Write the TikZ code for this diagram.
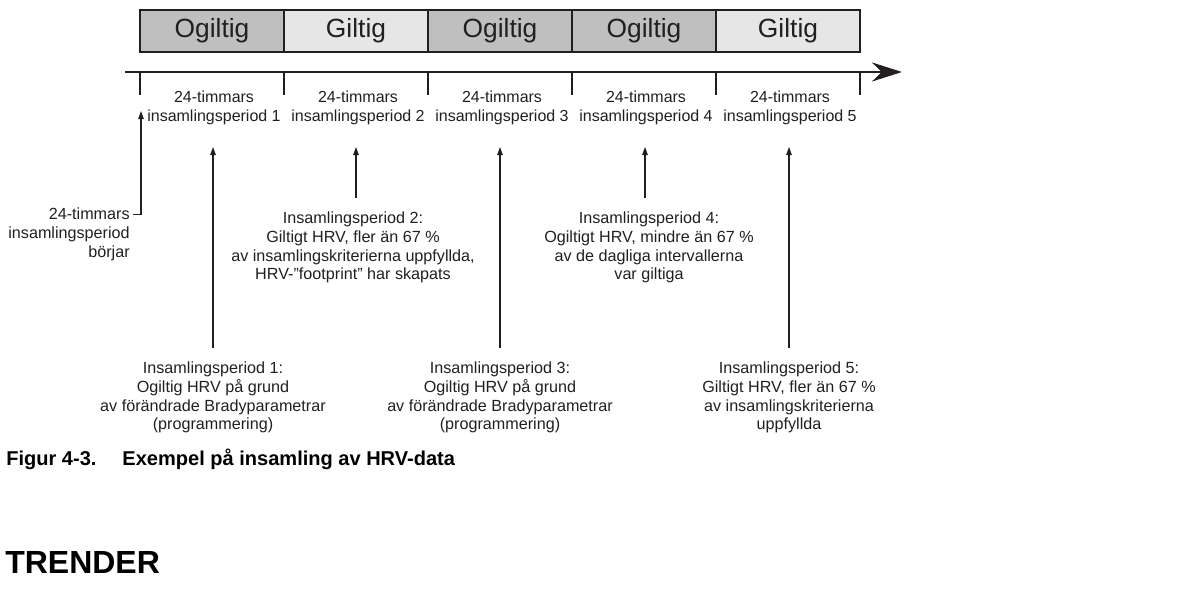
\documentclass[tikz,border=0pt]{standalone}
\usepackage{fontspec}
\setmainfont{Liberation Sans}
\usetikzlibrary{arrows.meta,positioning}
\definecolor{hrvdark}{RGB}{35,31,32}
\definecolor{hrvinvalid}{RGB}{191,191,191}
\definecolor{hrvvalid}{RGB}{230,230,230}

\begin{document}
\begin{tikzpicture}[x=0.02cm, y=-0.02cm,
  periodbox/.style={draw=hrvdark, line width=1.1pt, minimum width=2.88cm, minimum height=0.84cm, inner sep=0pt, font=\fontsize{15}{18}\selectfont, text=hrvdark},
  ticklabel/.style={font=\fontsize{9.1}{10.8}\selectfont, align=center, text=hrvdark, inner sep=0pt},
  notelabel/.style={font=\fontsize{9.2}{10.8}\selectfont, align=center, text=hrvdark, inner xsep=0pt, inner ysep=0.26cm, anchor=north},
  callarrow/.style={-{Triangle[length=1.6mm, width=1.1mm]}, line width=0.6pt, draw=hrvdark},
  tickline/.style={line width=1.4pt, draw=hrvdark}]
  \useasboundingbox (0,0) rectangle (1199,609);
  % Period boxes
  \foreach \lab/\shade [count=\i] in {Ogiltig/hrvinvalid, Giltig/hrvvalid, Ogiltig/hrvinvalid, Ogiltig/hrvinvalid, Giltig/hrvvalid}
    \node[periodbox, fill=\shade] (box\i) at ({68+144*\i},31) {\lab};
  % Time axis
  \coordinate (tstart) at (125,72);
  \coordinate (tend) at (902,72);
  \draw[line width=1.5pt, hrvdark, -{Stealth[length=6mm, width=3.8mm]}] (tstart) -- (tend);
  \foreach \i in {0,...,5}
    \draw[tickline] ({140+144*\i},72) -- ++(0,23);
  \foreach \i in {1,...,5}
    \node[ticklabel] (span\i) at ({70+144*\i},108) {24-timmars\\insamlingsperiod \i};
  % Arrow tips
  \coordinate (tip0) at (141,111);
  \coordinate (tip1) at (213,147);
  \coordinate (tip2) at (356,147);
  \coordinate (tip3) at (500,147);
  \coordinate (tip4) at (645,147);
  \coordinate (tip5) at (789,147);
  % Notes
  \node[notelabel, align=right, anchor=east, inner sep=0.06cm] (note0) at (133,234) {24-timmars\\insamlingsperiod\\börjar};
  \node[notelabel] (note1) at (213,348) {Insamlingsperiod 1:\\Ogiltig HRV på grund\\av förändrade Bradyparametrar\\(programmering)};
  \node[notelabel] (note2) at (353,198) {Insamlingsperiod 2:\\Giltigt HRV, fler än 67 \%\\av insamlingskriterierna uppfyllda,\\HRV-”footprint” har skapats};
  \node[notelabel] (note3) at (500,348) {Insamlingsperiod 3:\\Ogiltig HRV på grund\\av förändrade Bradyparametrar\\(programmering)};
  \node[notelabel] (note4) at (649,198) {Insamlingsperiod 4:\\Ogiltigt HRV, mindre än 67 \%\\av de dagliga intervallerna\\var giltiga};
  \node[notelabel] (note5) at (789,348) {Insamlingsperiod 5:\\Giltigt HRV, fler än 67 \%\\av insamlingskriterierna\\uppfyllda};
  % Arrows
  \draw[callarrow] ([yshift=0.39cm]note0.east) -| (tip0);
  \draw[callarrow] (note1.north) -- (tip1);
  \draw[callarrow] (note2.north -| tip2) -- (tip2);
  \draw[callarrow] (note3.north) -- (tip3);
  \draw[callarrow] (note4.north -| tip4) -- (tip4);
  \draw[callarrow] (note5.north) -- (tip5);
  % Caption and heading
  \node[font=\fontsize{11.4}{13}\selectfont\bfseries, anchor=base west, inner sep=0pt] (caption) at (6,465) {Figur 4-3.\hspace{0.52cm}Exempel på insamling av HRV-data};
  \node[font=\fontsize{18.2}{22}\selectfont\bfseries, anchor=base west, inner sep=0pt] (heading) at (5,573) {TRENDER};
\end{tikzpicture}
\end{document}
